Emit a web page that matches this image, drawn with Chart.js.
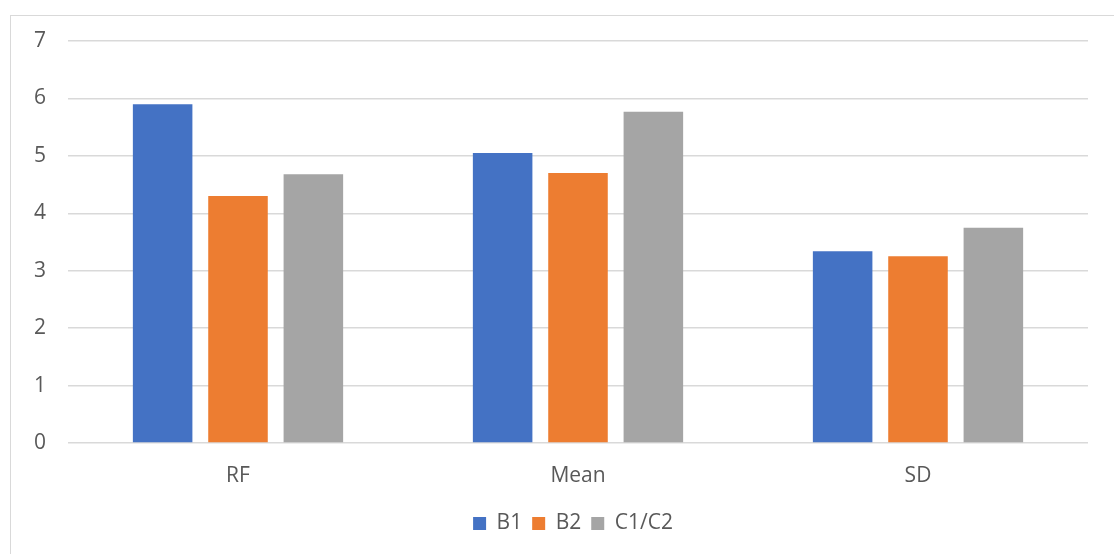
<!DOCTYPE html>
<html>
<head>
<meta charset="utf-8">
<script src="https://cdn.jsdelivr.net/npm/chart.js@4/dist/chart.umd.min.js"></script>
<style>
  html, body { margin: 0; padding: 0; background: #ffffff; overflow: hidden; }
  #frame {
    position: absolute; left: 10px; top: 15px; width: 1130px; height: 560px;
    border-left: 1px solid #d9d9d9; border-top: 1px solid #d9d9d9;
  }
  #wrap { position: absolute; left: 0; top: 0; width: 1114px; height: 554px; }
</style>
</head>
<body>
<div id="frame"></div>
<div id="wrap"><canvas id="c" width="1114" height="554"></canvas></div>
<script>
const categories = ['RF', 'Mean', 'SD'];
const seriesNames = ['B1', 'B2', 'C1/C2'];
const b1Values = [5.90, 5.05, 3.34];
const b2Values = [4.30, 4.70, 3.25];
const c1c2Values = [4.68, 5.77, 3.75];
const yTicks = [0, 1, 2, 3, 4, 5, 6, 7];

const colors = ['#4472C4', '#ED7D31', '#A5A5A5'];
const textColor = '#595959';
const gridColor = '#d9d9d9';
const fontFamily = '"Open Sans", "Liberation Sans", sans-serif';
const fontSize = 21;

const seriesValues = [b1Values, b2Values, c1c2Values];

// Center the legend row under the plot area rather than the whole canvas
const legendShift = {
  id: 'legendShift',
  afterLayout(chart) {
    const l = chart.legend;
    if (l) { l.left = 32; l.right = 1114; }
  }
};

new Chart(document.getElementById('c'), {
  type: 'bar',
  data: {
    labels: categories,
    datasets: seriesNames.map((name, i) => ({
      label: name,
      data: seriesValues[i],
      backgroundColor: colors[i],
      borderWidth: 0,
      categoryPercentage: 0.665,
      barPercentage: 0.79
    }))
  },
  options: {
    responsive: false,
    animation: false,
    devicePixelRatio: 1,
    layout: { padding: { left: 0, right: 26, top: 41, bottom: 10 } },
    plugins: {
      legend: {
        position: 'bottom',
        labels: {
          color: textColor,
          font: { family: fontFamily, size: fontSize },
          boxWidth: 13,
          boxHeight: 13,
          padding: 10
        }
      },
      tooltip: { enabled: false }
    },
    scales: {
      x: {
        grid: { display: false, drawTicks: false },
        border: { display: false },
        ticks: {
          color: textColor,
          font: { family: fontFamily, size: fontSize },
          padding: 20
        },
        afterFit: (s) => { s.height = 60; }
      },
      y: {
        min: yTicks[0],
        max: yTicks[yTicks.length - 1],
        afterBuildTicks: (s) => { s.ticks = yTicks.map(v => ({ value: v })); },
        grid: { color: gridColor, lineWidth: 1.5, drawTicks: false },
        border: { display: false },
        ticks: {
          color: textColor,
          font: { family: fontFamily, size: fontSize },
          padding: 22
        },
        afterFit: (s) => { s.width = 68; }
      }
    }
  },
  plugins: [legendShift]
});
</script>
</body>
</html>
